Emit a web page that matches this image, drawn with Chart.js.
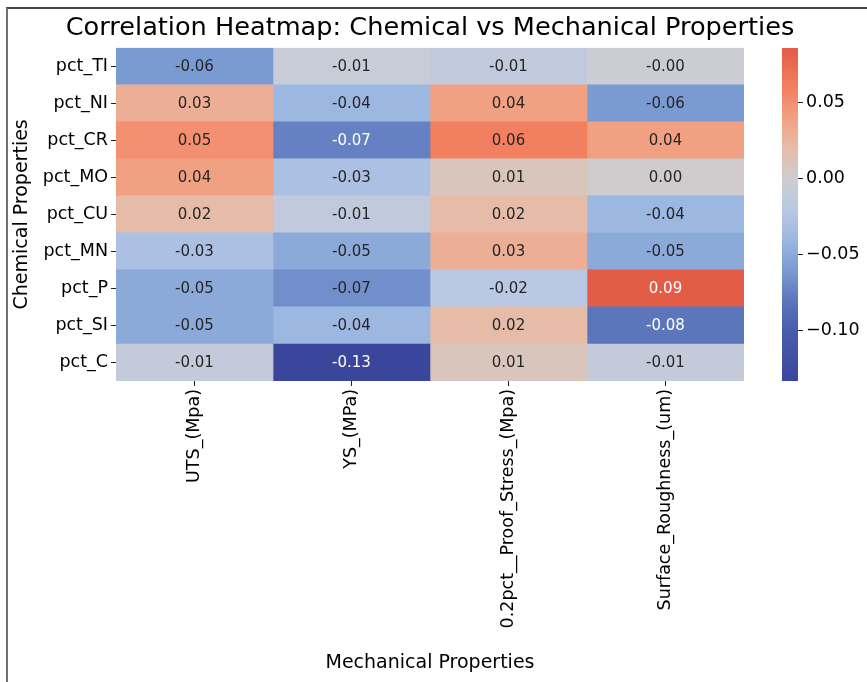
<!DOCTYPE html>
<html>
<head>
<meta charset="utf-8">
<script src="https://cdn.jsdelivr.net/npm/chart.js@4.4.1/dist/chart.umd.min.js"></script>
<style>
  html, body { margin: 0; padding: 0; background: #fff; overflow: hidden; width: 867px; height: 682px; }
  #frame { position: absolute; left: 6px; top: 7px; width: 900px; height: 700px; border-top: 2px solid #454545; border-left: 2px solid #707070; }
  #main { position: absolute; left: -7px; top: 0; }
  #cbar { position: absolute; left: 760px; top: 0; }
</style>
</head>
<body>
<div id="frame"></div>
<canvas id="main" width="874" height="682"></canvas>
<canvas id="cbar" width="107" height="682"></canvas>
<script>
// ---- data ----
const chemRows = ['pct_TI', 'pct_NI', 'pct_CR', 'pct_MO', 'pct_CU', 'pct_MN', 'pct_P', 'pct_SI', 'pct_C'];
const mechCols = ['UTS_(Mpa)', 'YS_(MPa)', '0.2pct__Proof_Stress_(Mpa)', 'Surface_Roughness_(um)'];
const utsCorr   = [-0.06, 0.03, 0.05, 0.04, 0.02, -0.03, -0.05, -0.05, -0.01];
const ysCorr    = [-0.006, -0.04, -0.074, -0.03, -0.012, -0.05, -0.066, -0.04, -0.133];
const proofCorr = [-0.012, 0.04, 0.06, 0.01, 0.02, 0.03, -0.02, 0.02, 0.01];
const roughCorr = [-0.002, -0.06, 0.04, 0.002, -0.04, -0.05, 0.086, -0.08, -0.01];
const colorbarTicks = [-0.10, -0.05, 0.00, 0.05];

const series = [utsCorr, ysCorr, proofCorr, roughCorr];
const allVals = series.flat();
const vmin = Math.min(...allVals);
const vmax = Math.max(...allVals);

// ---- colour map (value -> rgb) ----
const cmapStops = [
  [-0.133, [58, 70, 155]],
  [-0.10, [72, 92, 172]],
  [-0.08, [92, 118, 188]],
  [-0.06, [122, 155, 210]],
  [-0.04, [156, 183, 224]],
  [-0.02, [185, 200, 228]],
  [0.00, [205, 205, 208]],
  [0.02, [230, 188, 168]],
  [0.04, [241, 160, 130]],
  [0.06, [242, 128, 96]],
  [0.086, [226, 92, 70]]
];
function colorFor(v) {
  if (v <= cmapStops[0][0]) return cmapStops[0][1];
  for (let i = 1; i < cmapStops.length; i++) {
    const [v1, c1] = cmapStops[i];
    const [v0, c0] = cmapStops[i - 1];
    if (v <= v1) {
      const t = (v - v0) / (v1 - v0);
      return c0.map((c, k) => Math.round(c + (c1[k] - c) * t));
    }
  }
  return cmapStops[cmapStops.length - 1][1];
}
const rgbStr = c => `rgb(${c[0]},${c[1]},${c[2]})`;
function luminance(c) {
  const lin = c.map(x => { x /= 255; return x <= 0.03928 ? x / 12.92 : Math.pow((x + 0.055) / 1.055, 2.4); });
  return 0.2126 * lin[0] + 0.7152 * lin[1] + 0.0722 * lin[2];
}

const FONT = "'DejaVu Sans', 'Liberation Sans', sans-serif";

// ---- annotation plugin ----
const annotate = {
  id: 'annotate',
  afterDatasetsDraw(chart) {
    const ctx = chart.ctx;
    ctx.save();
    ctx.font = `15px ${FONT}`;
    ctx.textAlign = 'center';
    ctx.textBaseline = 'middle';
    series.forEach((vals, i) => {
      const meta = chart.getDatasetMeta(i);
      meta.data.forEach((bar, j) => {
        const v = vals[j];
        const col = colorFor(v);
        ctx.fillStyle = luminance(col) < 0.265 ? '#ffffff' : '#262626';
        ctx.fillText(v.toFixed(2), (bar.x + bar.base) / 2, bar.y + 1);
      });
    });
    ctx.restore();
  }
};

new Chart(document.getElementById('main'), {
  type: 'bar',
  data: {
    labels: chemRows,
    datasets: series.map((vals, i) => ({
      label: mechCols[i],
      data: vals.map(() => [i, i + 1]),
      backgroundColor: vals.map(v => rgbStr(colorFor(v))),
      borderWidth: 0,
      grouped: false,
      barPercentage: 1,
      categoryPercentage: 1
    }))
  },
  options: {
    indexAxis: 'y',
    responsive: false,
    animation: false,
    devicePixelRatio: 1,
    layout: { padding: { left: 0, right: 0, top: 0, bottom: 4 } },
    plugins: {
      legend: { display: false },
      tooltip: { enabled: false },
      title: {
        display: true,
        text: 'Correlation Heatmap: Chemical vs Mechanical Properties',
        color: '#000',
        font: { family: FONT, size: 25.6, weight: 'normal', lineHeight: 1.2 },
        padding: { top: 13, bottom: 4 },
        fullSize: true
      }
    },
    scales: {
      x: {
        type: 'linear',
        min: 0,
        max: mechCols.length,
        afterBuildTicks: s => { s.ticks = mechCols.map((_, i) => ({ value: i + 0.5 })); },
        afterFit: s => { s.height = 297; },
        ticks: {
          autoSkip: false,
          minRotation: 90,
          maxRotation: 90,
          padding: 3,
          color: '#000',
          font: { family: FONT, size: 17.5 },
          callback: (v, i) => mechCols[i]
        },
        grid: { drawOnChartArea: false, drawTicks: true, tickLength: 5, color: '#222', tickWidth: 1 },
        border: { display: false },
        title: {
          display: true,
          text: 'Mechanical Properties',
          color: '#000',
          font: { family: FONT, size: 19 },
          padding: { top: 0, bottom: 4 }
        }
      },
      y: {
        type: 'category',
        afterFit: s => { s.width = 123; },
        ticks: {
          padding: 3,
          color: '#000',
          font: { family: FONT, size: 17.5 }
        },
        grid: { offset: false, drawOnChartArea: false, drawTicks: true, tickLength: 5, color: '#222', tickWidth: 1 },
        border: { display: false },
        title: {
          display: true,
          text: 'Chemical Properties',
          color: '#000',
          font: { family: FONT, size: 19 },
          padding: { top: 18, bottom: 0 }
        }
      },
      yRight: {
        type: 'category',
        position: 'right',
        afterFit: s => { s.width = 123; },
        ticks: { display: false },
        grid: { display: false },
        border: { display: false }
      }
    }
  },
  plugins: [annotate]
});

// ---- colour bar ----
new Chart(document.getElementById('cbar'), {
  type: 'bar',
  data: {
    labels: [''],
    datasets: [{
      data: [[vmin, vmax]],
      borderWidth: 0,
      barPercentage: 1,
      categoryPercentage: 1,
      backgroundColor: (c) => {
        const chart = c.chart;
        if (!chart.chartArea) return 'rgba(0,0,0,0)';
        const y = chart.scales.y;
        const g = chart.ctx.createLinearGradient(0, y.getPixelForValue(vmin), 0, y.getPixelForValue(vmax));
        cmapStops.forEach(([v, col]) => {
          const t = Math.min(1, Math.max(0, (v - vmin) / (vmax - vmin)));
          g.addColorStop(t, rgbStr(col));
        });
        return g;
      }
    }]
  },
  options: {
    responsive: false,
    animation: false,
    devicePixelRatio: 1,
    layout: { padding: { left: 22, right: 0, top: 48, bottom: 301 } },
    plugins: { legend: { display: false }, tooltip: { enabled: false } },
    scales: {
      x: { display: false },
      y: {
        position: 'right',
        min: vmin,
        max: vmax,
        afterBuildTicks: s => { s.ticks = colorbarTicks.map(v => ({ value: v })); },
        afterFit: s => { s.width = 69; },
        ticks: {
          padding: 3,
          color: '#000',
          font: { family: FONT, size: 17.5 },
          callback: v => (v < -1e-9 ? '\u2212' + Math.abs(v).toFixed(2) : Math.abs(v).toFixed(2))
        },
        grid: { drawOnChartArea: false, drawTicks: true, tickLength: 5, color: '#222', tickWidth: 1 },
        border: { display: false }
      }
    }
  }
});
</script>
</body>
</html>
